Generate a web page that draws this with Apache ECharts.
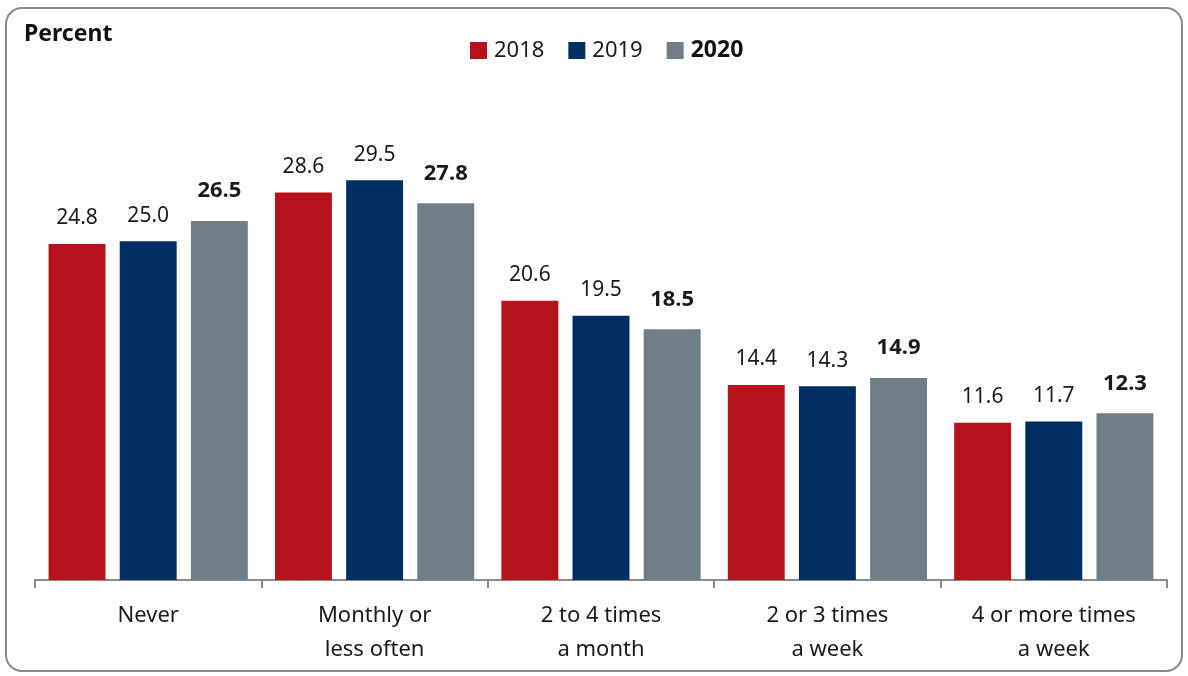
<!DOCTYPE html>
<html>
<head>
<meta charset="utf-8">
<script src="https://cdn.jsdelivr.net/npm/echarts@6/dist/echarts.min.js"></script>
<style>
  html, body { margin: 0; padding: 0; background: #fff; }
  #chart { width: 1188px; height: 676px; }
</style>
</head>
<body>
<div id="chart"></div>
<script>
// Frequency categories along the x axis
const categories = ['Never', 'Monthly or\nless often', '2 to 4 times\na month', '2 or 3 times\na week', '4 or more times\na week'];
// Share of respondents (percent) per year
const values2018 = [24.8, 28.6, 20.6, 14.4, 11.6];
const values2019 = [25.0, 29.5, 19.5, 14.3, 11.7];
const values2020 = [26.5, 27.8, 18.5, 14.9, 12.3];
const seriesNames = ['2018', '2019', '2020'];

const FONT = '"Noto Sans", "Open Sans", sans-serif';
const colors = ['#B5121B', '#002D62', '#717E88'];

const chart = echarts.init(document.getElementById('chart'));

function barSeries(name, data, color, bold) {
  return {
    name: name,
    type: 'bar',
    data: data,
    barGap: '25%',
    barCategoryGap: '12%',
    itemStyle: { color: color },
    label: {
      show: true,
      position: 'top',
      distance: bold ? 19 : 15,
      formatter: (p) => p.value.toFixed(1),
      fontFamily: FONT,
      fontSize: bold ? 22 : 21,
      fontWeight: bold ? 'bold' : 'normal',
      color: '#1a1a1a'
    }
  };
}

chart.setOption({
  animation: false,
  backgroundColor: '#fff',
  graphic: [
    {
      type: 'rect',
      shape: { x: 6, y: 8, width: 1176, height: 663, r: 16 },
      style: { fill: 'none', stroke: '#8a8a8a', lineWidth: 2 },
      z: 0
    },
    {
      type: 'text',
      left: 24,
      top: 23,
      style: { text: 'Percent', fontFamily: FONT, fontSize: 23, fontWeight: 'bold', fill: '#111' }
    }
  ],
  legend: {
    data: seriesNames,
    top: 34,
    left: 465,
    itemWidth: 17,
    itemHeight: 17,
    itemGap: 24,
    icon: 'rect',
    textStyle: {
      fontFamily: FONT,
      fontSize: 22,
      color: '#1a1a1a',
      padding: [0, 0, 0, 2],
      rich: {
        b: { fontFamily: FONT, fontSize: 23, fontWeight: 'bold', color: '#111' }
      }
    },
    formatter: (name) => name === '2020' ? '{b|' + name + '}' : name
  },
  grid: { left: 35, right: 21, top: 38, bottom: 96 },
  xAxis: {
    type: 'category',
    data: categories,
    axisLine: { lineStyle: { color: '#8a8a8a', width: 2 } },
    axisTick: { show: true, length: 8, lineStyle: { color: '#8a8a8a', width: 2 } },
    axisLabel: {
      fontFamily: FONT,
      fontSize: 22,
      color: '#1a1a1a',
      lineHeight: 34,
      margin: 19,
      interval: 0
    }
  },
  yAxis: {
    type: 'value',
    min: 0,
    max: 40,
    show: false,
    splitLine: { show: false }
  },
  series: [
    barSeries(seriesNames[0], values2018, colors[0], false),
    barSeries(seriesNames[1], values2019, colors[1], false),
    barSeries(seriesNames[2], values2020, colors[2], true)
  ]
});
</script>
</body>
</html>
